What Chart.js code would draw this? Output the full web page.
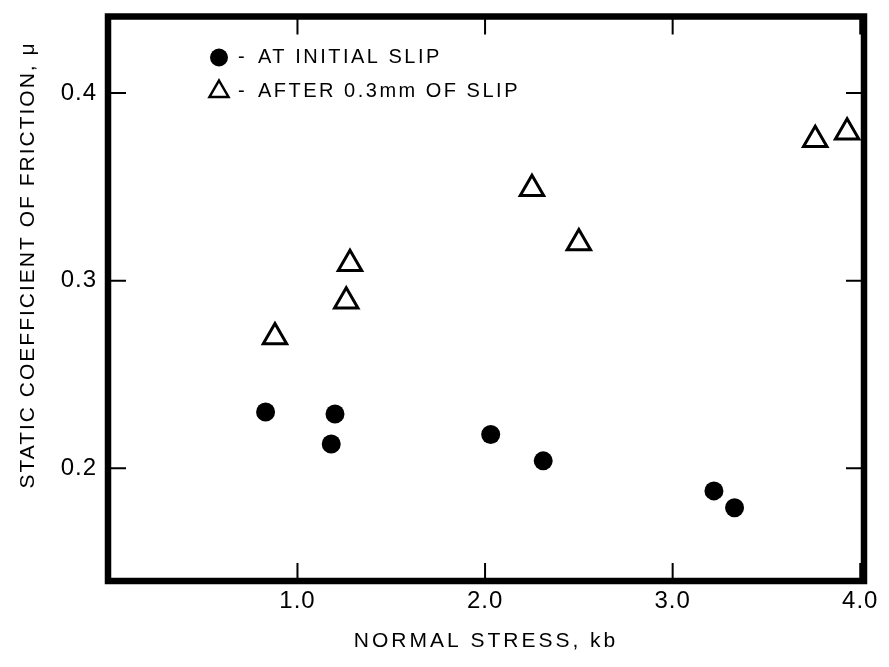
<!DOCTYPE html>
<html>
<head>
<meta charset="utf-8">
<title>Static coefficient of friction</title>
<script src="https://cdn.jsdelivr.net/npm/chart.js@4.4.1/dist/chart.umd.min.js"></script>
<style>
  html, body { margin: 0; padding: 0; background: #fff; }
  #wrap { width: 889px; height: 667px; }
</style>
</head>
<body>
<div id="wrap"><canvas id="chart"></canvas></div>
<script>
// normal stress (kb) and friction values
const initialStress = [0.83, 1.20, 1.18, 2.03, 2.31, 3.22, 3.33];
const initialMu     = [0.230, 0.229, 0.213, 0.218, 0.204, 0.188, 0.179];
const afterStress   = [0.88, 1.26, 1.28, 2.25, 2.50, 3.76, 3.93];
const afterMu       = [0.270, 0.289, 0.309, 0.349, 0.320, 0.375, 0.379];

const xTickVals = [1.0, 2.0, 3.0, 4.0];
const yTickVals = [0.2, 0.3, 0.4];

const legendLabels = ['AT INITIAL SLIP', 'AFTER 0.3mm OF SLIP'];
const xTitle = 'NORMAL STRESS, kb';
const yTitle = 'STATIC COEFFICIENT OF FRICTION, \u03bc';

const FONT = "'Liberation Sans', Arial, sans-serif";
Chart.defaults.font.family = FONT;
Chart.defaults.color = '#000';

const toPoints = (xs, ys) => xs.map((x, i) => ({ x: x, y: ys[i] }));

// frame, inward ticks, legend and axis titles
const framePlugin = {
    id: 'frame',
    beforeDraw(chart) { chart.ctx.letterSpacing = '1px'; },
    afterDraw(chart) {
        const { ctx, chartArea: a, scales: { x, y } } = chart;
        ctx.save();
        ctx.strokeStyle = '#000';
        ctx.fillStyle = '#000';
        ctx.lineCap = 'butt';

        ctx.lineWidth = 2;
        ctx.beginPath();
        xTickVals.forEach(v => {
            const px = x.getPixelForValue(v);
            ctx.moveTo(px, a.bottom); ctx.lineTo(px, a.bottom - 18);
            ctx.moveTo(px, a.top); ctx.lineTo(px, a.top + 18);
        });
        yTickVals.forEach(v => {
            const py = y.getPixelForValue(v);
            ctx.moveTo(a.left, py); ctx.lineTo(a.left + 18, py);
            ctx.moveTo(a.right, py); ctx.lineTo(a.right - 18, py);
        });
        ctx.stroke();

        ctx.lineWidth = 6.5;
        ctx.strokeRect(a.left, a.top, a.right - a.left, a.bottom - a.top);

        // legend inside the plot, top left
        ctx.font = '20px ' + FONT;
        ctx.letterSpacing = '2.5px';
        ctx.textBaseline = 'middle';
        ctx.textAlign = 'left';
        const lx = a.left + 111, ly = a.top + 41, step = 34;
        chart.data.datasets.forEach((ds, i) => {
            const cy = ly + i * step;
            ctx.beginPath();
            if (ds.pointStyle === 'circle') {
                ctx.arc(lx, cy, 9, 0, Math.PI * 2);
                ctx.fill();
            } else {
                const r = 11;
                ctx.moveTo(lx, cy - r);
                ctx.lineTo(lx + r * 0.866, cy + r / 2);
                ctx.lineTo(lx - r * 0.866, cy + r / 2);
                ctx.closePath();
                ctx.lineWidth = 2.5;
                ctx.stroke();
            }
            ctx.fillText('-', lx + 19, cy);
            ctx.fillText(legendLabels[i], lx + 39, cy);
        });

        // axis titles
        ctx.font = '21px ' + FONT;
        ctx.letterSpacing = '3px';
        ctx.textAlign = 'center';
        ctx.fillText(xTitle, (a.left + a.right) / 2, 641);

        ctx.letterSpacing = '2px';
        ctx.translate(28, 265);
        ctx.rotate(-Math.PI / 2);
        ctx.fillText(yTitle, 0, 0);
        ctx.restore();
        ctx.letterSpacing = '0px';
    }
};

new Chart(document.getElementById('chart'), {
    type: 'scatter',
    data: {
        datasets: [
            {
                label: legendLabels[0],
                data: toPoints(initialStress, initialMu),
                pointStyle: 'circle',
                pointRadius: 9.5,
                backgroundColor: '#000',
                borderColor: '#000',
                borderWidth: 0
            },
            {
                label: legendLabels[1],
                data: toPoints(afterStress, afterMu),
                pointStyle: 'triangle',
                pointRadius: 13.5,
                backgroundColor: '#fff',
                borderColor: '#000',
                borderWidth: 3
            }
        ]
    },
    options: {
        responsive: true,
        maintainAspectRatio: false,
        animation: false,
        layout: { padding: { top: 12, right: 25, left: 0, bottom: 0 } },
        plugins: {
            legend: { display: false },
            tooltip: { enabled: false }
        },
        scales: {
            x: {
                type: 'linear',
                min: -0.01,
                max: 4.02,
                afterBuildTicks: s => { s.ticks = xTickVals.map(v => ({ value: v })); },
                afterFit: s => { s.height = 86; s.paddingLeft = 0; s.paddingRight = 0; },
                ticks: {
                    callback: v => v.toFixed(1),
                    font: { size: 24 },
                    padding: 6,
                    maxRotation: 0,
                    autoSkip: false
                },
                grid: { display: false, drawTicks: false, tickLength: 0 },
                border: { display: false }
            },
            y: {
                type: 'linear',
                min: 0.14,
                max: 0.4407,
                afterBuildTicks: s => { s.ticks = yTickVals.map(v => ({ value: v })); },
                afterFit: s => { s.width = 108; s.paddingTop = 0; s.paddingBottom = 0; },
                ticks: {
                    callback: v => v.toFixed(1),
                    font: { size: 24 },
                    padding: 11,
                    autoSkip: false
                },
                grid: { display: false, drawTicks: false, tickLength: 0 },
                border: { display: false }
            }
        }
    },
    plugins: [framePlugin]
});
</script>
</body>
</html>
